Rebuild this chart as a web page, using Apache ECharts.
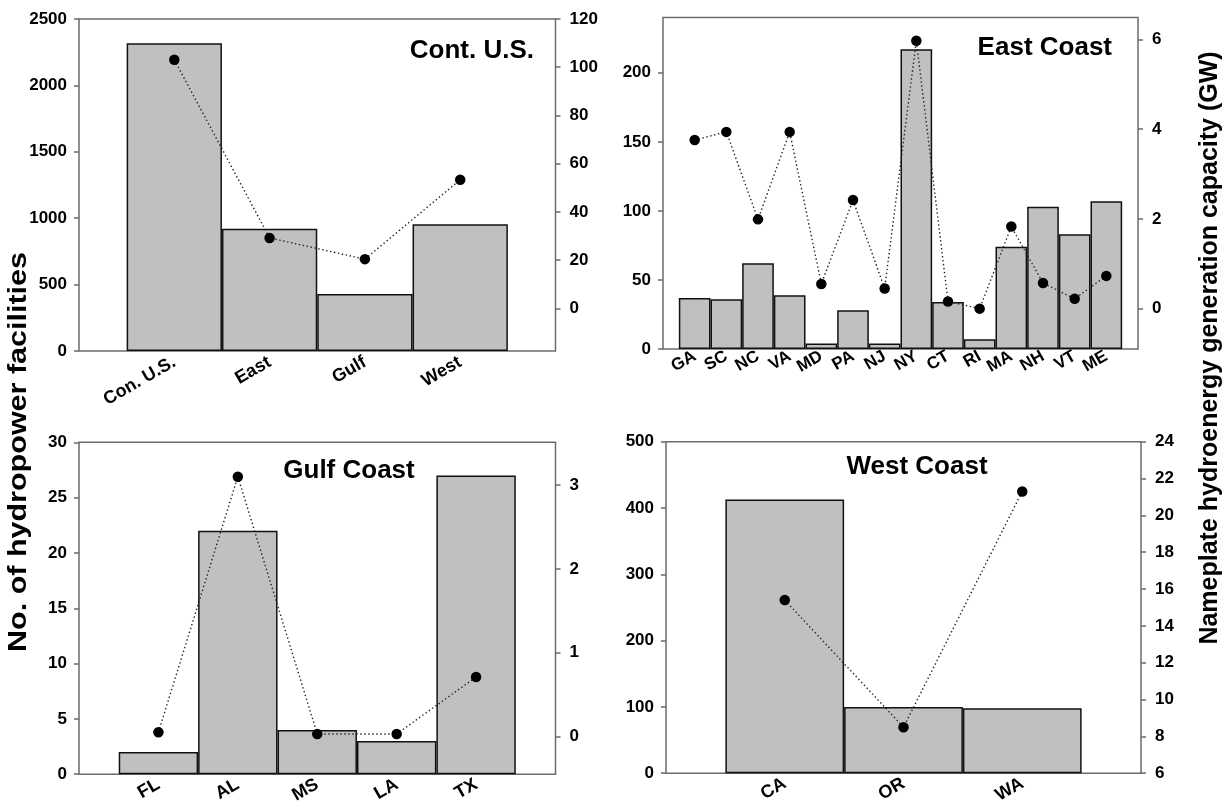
<!DOCTYPE html>
<html>
<head>
<meta charset="utf-8">
<script src="https://cdn.jsdelivr.net/npm/echarts@6/dist/echarts.min.js"></script>
<style>
html,body{margin:0;padding:0;background:#fff;}
#chart{width:1225px;height:806px;}
</style>
</head>
<body>
<div id="chart"></div>
<script>
// ---------------- data ----------------
const contCats = ['Con. U.S.', 'East', 'Gulf', 'West'];
const contFacilities = [2317, 921, 429, 954];
const contCapacity = [103.1, 29.2, 20.4, 53.3];

const eastCats = ['GA','SC','NC','VA','MD','PA','NJ','NY','CT','RI','MA','NH','VT','ME'];
const eastFacilities = [37, 36, 62, 39, 4, 28, 4, 217, 34, 7, 74, 103, 83, 107];
const eastCapacity = [3.76, 3.94, 1.99, 3.94, 0.55, 2.42, 0.45, 5.97, 0.16, 0.0, 1.83, 0.57, 0.22, 0.73];

const gulfCats = ['FL','AL','MS','LA','TX'];
const gulfFacilities = [2, 22, 4, 3, 27];
const gulfCapacity = [0.05, 3.10, 0.03, 0.03, 0.71];

const westCats = ['CA','OR','WA'];
const westFacilities = [413, 100, 98];
const westCapacity = [15.4, 8.5, 21.3];

const contCapTicks = [0, 20, 40, 60, 80, 100, 120];
const eastFacTicks = [0, 50, 100, 150, 200];
const eastCapTicks = [0, 2, 4, 6];
const gulfCapTicks = [0, 1, 2, 3];

const panelTitles = ['Cont. U.S.', 'East Coast', 'Gulf Coast', 'West Coast'];
const leftTitle = 'No. of hydropower facilities';
const rightTitle = 'Nameplate hydroenergy generation capacity (GW)';

// ---------------- styling / layout ----------------
const FONT = '"Liberation Sans", Arial, Helvetica, sans-serif';
const FRAME = '#6b6b6b';
const grids = [
  {left: 79, top: 19, width: 476.5, height: 332},
  {left: 663, top: 17.5, width: 475, height: 331.5},
  {left: 79, top: 442.3, width: 476.5, height: 332},
  {left: 666, top: 441.7, width: 475, height: 331.6}
];

const pad = arr => ['-'].concat(arr).concat(['-']);
const padCat = arr => [''].concat(arr).concat(['']);
const plain = v => String(v);

const tickLabel = {color: '#000', fontWeight: 'bold', fontSize: 17, fontFamily: FONT, formatter: plain};

function makeAxis(gi, cfg, pos, margin) {
  const ax = Object.assign({
    type: 'value', gridIndex: gi, position: pos,
    axisLine: {show: false},
    axisTick: {show: true, length: 5, lineStyle: {color: FRAME, width: 1.5}},
    axisLabel: Object.assign({margin: margin}, tickLabel),
    splitLine: {show: false}
  }, cfg.base);
  if (cfg.ticks) {
    ax.axisTick.customValues = cfg.ticks;
    ax.axisLabel.customValues = cfg.ticks;
  }
  return ax;
}

const panels = [
  {cats: contCats, bars: contFacilities, line: contCapacity, labelSize: 18, labelMargin: 10,
   left: {base: {min: 0, max: 2500, interval: 500}},
   right: {base: {min: -17.7, max: 120}, ticks: contCapTicks}},
  {cats: eastCats, bars: eastFacilities, line: eastCapacity, labelSize: 17, labelMargin: 6,
   left: {base: {min: 0, max: 240}, ticks: eastFacTicks},
   right: {base: {min: -0.9, max: 6.49}, ticks: eastCapTicks}},
  {cats: gulfCats, bars: gulfFacilities, line: gulfCapacity, labelSize: 18, labelMargin: 9,
   left: {base: {min: 0, max: 30, interval: 5}},
   right: {base: {min: -0.45, max: 3.51}, ticks: gulfCapTicks}},
  {cats: westCats, bars: westFacilities, line: westCapacity, labelSize: 18, labelMargin: 9,
   left: {base: {min: 0, max: 500, interval: 100}},
   right: {base: {min: 6, max: 24, interval: 2}}}
];

const option = {
  animation: false,
  backgroundColor: '#fff',
  grid: [], xAxis: [], yAxis: [], series: [], graphic: []
};

panels.forEach((p, i) => {
  option.grid.push(Object.assign({show: true, borderColor: FRAME, borderWidth: 1.5, backgroundColor: 'transparent', containLabel: false}, grids[i]));
  option.xAxis.push({
    type: 'category', gridIndex: i, data: padCat(p.cats), boundaryGap: false,
    axisLine: {show: false}, axisTick: {show: false},
    axisLabel: {interval: 0, rotate: 30, margin: p.labelMargin, color: '#000', fontWeight: 'bold', fontSize: p.labelSize, fontFamily: FONT},
    splitLine: {show: false}
  });
  option.yAxis.push(makeAxis(i, p.left, 'left', 12));
  option.yAxis.push(makeAxis(i, p.right, 'right', 14));
  option.series.push({
    type: 'bar', xAxisIndex: i, yAxisIndex: 2 * i, data: pad(p.bars), barWidth: '100%',
    itemStyle: {color: '#c0c0c0', borderColor: '#111', borderWidth: 1.5},
    z: 2
  });
  option.series.push({
    type: 'line', xAxisIndex: i, yAxisIndex: 2 * i + 1, data: pad(p.line),
    symbol: 'circle', symbolSize: 10.5, showSymbol: true,
    itemStyle: {color: '#000'},
    lineStyle: {color: '#222', width: 1.4, type: [1.4, 2.6]},
    z: 5
  });
});

// panel titles
const titlePos = [
  {x: 534, y: 51, align: 'right'},
  {x: 1112, y: 48, align: 'right'},
  {x: 349, y: 471, align: 'center'},
  {x: 917, y: 467, align: 'center'}
];
panelTitles.forEach((t, i) => {
  option.graphic.push({
    type: 'text', x: titlePos[i].x, y: titlePos[i].y, z: 10,
    style: {text: t, fill: '#000', font: 'bold 26px ' + FONT, textAlign: titlePos[i].align, textVerticalAlign: 'middle'}
  });
});
// shared axis titles
option.graphic.push({
  type: 'text', x: 19, y: 452, rotation: Math.PI / 2, scaleX: 1.22, z: 10,
  style: {text: leftTitle, fill: '#000', font: 'bold 25px ' + FONT, textAlign: 'center', textVerticalAlign: 'middle'}
});
option.graphic.push({
  type: 'text', x: 1210, y: 348, rotation: Math.PI / 2, z: 10,
  style: {text: rightTitle, fill: '#000', font: 'bold 25px ' + FONT, textAlign: 'center', textVerticalAlign: 'middle'}
});

const chart = echarts.init(document.getElementById('chart'), null, {renderer: 'canvas'});
chart.setOption(option);
</script>
</body>
</html>
